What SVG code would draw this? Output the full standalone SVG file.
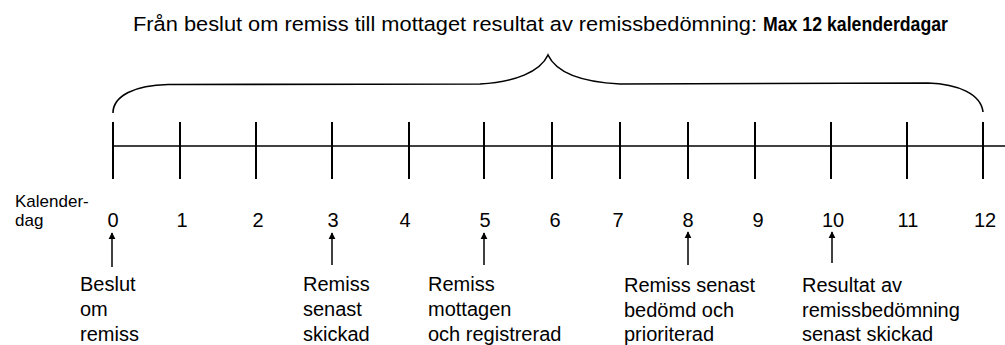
<svg xmlns="http://www.w3.org/2000/svg" width="1005" height="345" viewBox="0 0 1005 345">
<defs>
<marker id="ah" viewBox="0 0 10 10" refX="9" refY="5" markerWidth="7" markerHeight="9" markerUnits="userSpaceOnUse" orient="auto">
<path d="M0,0 L10,5 L0,10 Z" fill="#000"/>
</marker>
<style>
text{font-family:"Liberation Sans",Arial,sans-serif;fill:#000}
.title{font-size:20.5px}
.b{font-weight:bold;font-size:20px}
.num{font-size:20px;text-anchor:middle}
.lab{font-size:20px}
.small{font-size:17px}
.tick{stroke:#000;stroke-width:2}
.line{stroke:#000;stroke-width:1.6;fill:none}
.arr{stroke:#000;stroke-width:1.5;fill:none;marker-end:url(#ah)}
</style>
</defs>
<rect width="1005" height="345" fill="#fff"/>
<g id="title">
<text class="title" x="133" y="31" textLength="624" lengthAdjust="spacingAndGlyphs">Från beslut om remiss till mottaget resultat av remissbedömning:</text>
<text class="b" x="763" y="31" textLength="185" lengthAdjust="spacingAndGlyphs">Max 12 kalenderdagar</text>
</g>
<g id="brace"><path class="line" d="M113,113 C113,96 135,85 168,84.5 L480,84 C515,82 540,72 548,55 C556,72 581,82 620,84 L928,83 C958,84 981,94 983,112"/></g>
<g id="axis">
<line class="line" x1="113" y1="146" x2="1005" y2="146"/>
<line class="tick" x1="113" y1="122" x2="113" y2="179"/>
<line class="tick" x1="180" y1="122" x2="180" y2="179"/>
<line class="tick" x1="256" y1="122" x2="256" y2="179"/>
<line class="tick" x1="332" y1="122" x2="332" y2="179"/>
<line class="tick" x1="409" y1="122" x2="409" y2="179"/>
<line class="tick" x1="484" y1="122" x2="484" y2="179"/>
<line class="tick" x1="552" y1="122" x2="552" y2="179"/>
<line class="tick" x1="620" y1="122" x2="620" y2="179"/>
<line class="tick" x1="688" y1="122" x2="688" y2="179"/>
<line class="tick" x1="755" y1="122" x2="755" y2="179"/>
<line class="tick" x1="831" y1="122" x2="831" y2="179"/>
<line class="tick" x1="907" y1="122" x2="907" y2="179"/>
<line class="tick" x1="983" y1="122" x2="983" y2="179"/>
</g>
<g id="axis-label"><text class="small" x="15" y="207">Kalender-</text><text class="small" x="15" y="226">dag</text></g>
<g id="day-numbers">
<text class="num" x="113" y="227">0</text>
<text class="num" x="182" y="227">1</text>
<text class="num" x="258" y="227">2</text>
<text class="num" x="333" y="227">3</text>
<text class="num" x="405" y="227">4</text>
<text class="num" x="485" y="227">5</text>
<text class="num" x="555" y="227">6</text>
<text class="num" x="618" y="227">7</text>
<text class="num" x="688" y="227">8</text>
<text class="num" x="758" y="227">9</text>
<text class="num" x="833" y="227">10</text>
<text class="num" x="908" y="227">11</text>
<text class="num" x="985" y="227">12</text>
</g>
<g id="connectors">
<line class="arr" x1="112" y1="267" x2="112" y2="233"/>
<line class="arr" x1="332" y1="265" x2="332" y2="233"/>
<line class="arr" x1="484" y1="265" x2="484" y2="233"/>
<line class="arr" x1="688" y1="265" x2="688" y2="232"/>
<line class="arr" x1="832" y1="263" x2="832" y2="232"/>
</g>
<g id="label-day0"><text class="lab" x="80" y="291">Beslut</text><text class="lab" x="80" y="316">om</text><text class="lab" x="80" y="341">remiss</text></g>
<g id="label-day3"><text class="lab" x="303" y="291">Remiss</text><text class="lab" x="303" y="316">senast</text><text class="lab" x="303" y="341">skickad</text></g>
<g id="label-day5"><text class="lab" x="428" y="291">Remiss</text><text class="lab" x="428" y="316">mottagen</text><text class="lab" x="428" y="341">och registrerad</text></g>
<g id="label-day8"><text class="lab" x="624" y="292">Remiss senast</text><text class="lab" x="624" y="317">bedömd och</text><text class="lab" x="624" y="341">prioriterad</text></g>
<g id="label-day10"><text class="lab" x="802" y="292">Resultat av</text><text class="lab" x="802" y="317">remissbedömning</text><text class="lab" x="802" y="341">senast skickad</text></g>
</svg>
